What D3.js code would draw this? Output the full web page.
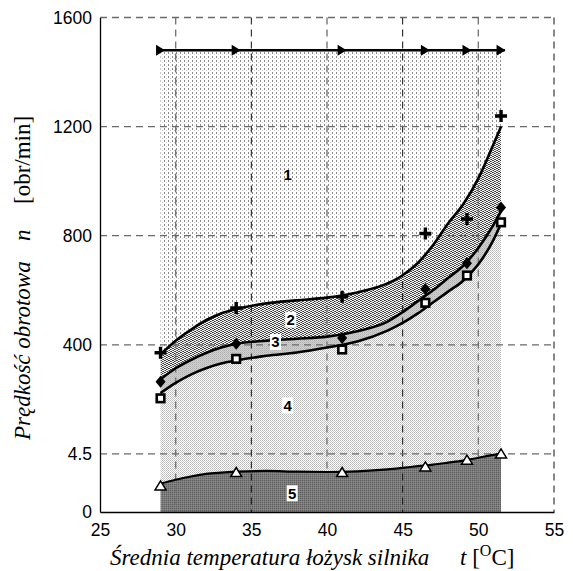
<!DOCTYPE html>
<html>
<head>
<meta charset="utf-8">
<script src="https://cdn.jsdelivr.net/npm/d3@7"></script>
<style>
  html, body { margin: 0; padding: 0; background: #fff; }
  svg { display: block; }
  .tick text { font-family: "Liberation Sans", Arial, sans-serif; font-size: 17.5px; fill: #000; }
</style>
</head>
<body>
<svg id="chart" width="573" height="571"></svg>
<script>
// Measurement points (temperature, °C)
const tempPoints = [29, 34, 41, 46.5, 49.25, 51.5];
const seriesPlus = [371, 535, 576, 808, 861, 1239];
const seriesDiamond = [266, 404, 425, 605, 699, 903];
const seriesSquare = [206, 349, 383, 554, 654, 849];
const seriesTriangle = [2.02, 3.06, 3.06, 3.49, 4.01, 4.53];
const arrowLevel = 1480;

// Fitted boundary curves, sampled along temperature
const curveTemps = [29, 30, 31, 32, 33, 34, 36, 38, 40, 42, 44, 45, 46, 47, 48, 49, 50, 51, 51.5];
const curveUpper = [365, 415, 455, 490, 515, 531, 552, 563, 573, 592, 625, 655, 700, 765, 845, 915, 1010, 1135, 1200];
const curveMiddle = [275, 315, 345, 370, 390, 404, 415, 422, 430, 450, 485, 520, 560, 600, 645, 690, 755, 840, 890];
const curveLower = [225, 262, 292, 315, 332, 343, 360, 372, 390, 412, 452, 480, 515, 555, 595, 635, 695, 785, 845];
const curveBase = [2.2, 2.5, 2.75, 2.95, 3.05, 3.12, 3.18, 3.12, 3.1, 3.15, 3.3, 3.42, 3.55, 3.67, 3.82, 3.98, 4.2, 4.42, 4.55];

// Axis ticks
const xTicks = [25, 30, 35, 40, 45, 50, 55];
const yTicks = [0, 4.5, 400, 800, 1200, 1600];
const zoneLabels = ["1", "2", "3", "4", "5"];
const zoneLabelTemps = [37.4, 37.6, 36.6, 37.4, 37.7];
const zoneLabelValues = [1025, 492, 410, 180, 1.45];

const svg = d3.select("#chart");
const x = d3.scaleLinear().domain([25, 55]).range([100, 554]);
const step = 109.1;
const y = d3.scaleLinear()
  .domain(yTicks)
  .range([512, 17.5 + 4 * step, 17.5 + 3 * step, 17.5 + 2 * step, 17.5 + step, 17.5]);

// Fill textures
const defs = svg.append("defs");
function pattern(id, w, h, bg, pixels) {
  const p = defs.append("pattern").attr("id", id)
    .attr("patternUnits", "userSpaceOnUse").attr("width", w).attr("height", h);
  p.append("rect").attr("width", w).attr("height", h).attr("fill", bg);
  pixels.forEach(([px, py, c, pw, ph]) => p.append("rect")
    .attr("x", px).attr("y", py).attr("width", pw || 1).attr("height", ph || 1)
    .attr("fill", c).attr("shape-rendering", "crispEdges"));
}
pattern("pZone1", 4, 4, "#fff", [[0, 0, "#8a8a8a", 1, 2], [2, 2, "#d0d0d0"]]);
pattern("pZone2", 4, 4, "#f4f4f4", [
  [0, 0, "#333"], [1, 0, "#555"],
  [2, 1, "#333"], [3, 1, "#777"],
  [1, 2, "#444"], [0, 2, "#888"],
  [3, 3, "#333"], [2, 3, "#666"]
]);
pattern("pZone3", 2, 2, "#d0d0d0", [[0, 0, "#b0b0b0"], [1, 1, "#c0c0c0"]]);
pattern("pZone4", 2, 2, "#fff", [[0, 0, "#b8b8b8"], [1, 1, "#c8c8c8"]]);
pattern("pZone5", 2, 2, "#7a7a7a", [[0, 0, "#5e5e5e"], [1, 1, "#8c8c8c"]]);

const idx = d3.range(curveTemps.length);
const cx = i => x(curveTemps[i]);
function band(topFn, botFn) {
  return d3.area().x(cx).y0(botFn).y1(topFn).curve(d3.curveMonotoneX)(idx);
}
const g = svg.append("g");
g.append("path").attr("d", band(() => y(arrowLevel), i => y(curveUpper[i]))).attr("fill", "url(#pZone1)");
g.append("path").attr("d", band(i => y(curveUpper[i]), i => y(curveMiddle[i]))).attr("fill", "url(#pZone2)");
g.append("path").attr("d", band(i => y(curveMiddle[i]), i => y(curveLower[i]))).attr("fill", "url(#pZone3)");
g.append("path").attr("d", band(i => y(curveLower[i]), i => y(curveBase[i]))).attr("fill", "url(#pZone4)");
g.append("path").attr("d", band(i => y(curveBase[i]), () => y(0))).attr("fill", "url(#pZone5)");

// Dashed grid
const grid = svg.append("g").attr("fill", "none");
xTicks.slice(1).forEach(t => {
  const dark = (t === 35 || t === 45 || t === 55);
  grid.append("line").attr("x1", x(t)).attr("x2", x(t)).attr("y1", y(1600)).attr("y2", y(0))
    .attr("stroke", dark ? "#111" : "#777").attr("stroke-width", dark ? 1 : 1.4)
    .attr("stroke-dasharray", "7,5");
});
yTicks.slice(1).forEach(t => {
  grid.append("line").attr("x1", x(25)).attr("x2", x(55)).attr("y1", y(t)).attr("y2", y(t))
    .attr("stroke", "#6a6a6a").attr("stroke-width", 1.3).attr("stroke-dasharray", "7,5");
});

// Boundary curves
const line = vals => d3.line().x(cx).y(i => y(vals[i])).curve(d3.curveMonotoneX)(idx);
[curveUpper, curveMiddle, curveLower].forEach(v =>
  svg.append("path").attr("d", line(v)).attr("fill", "none").attr("stroke", "#000").attr("stroke-width", 2.6));
svg.append("path").attr("d", line(curveBase)).attr("fill", "none").attr("stroke", "#000").attr("stroke-width", 2.2);

// Arrow line at constant level
svg.append("line").attr("x1", x(tempPoints[0]) - 4).attr("x2", x(tempPoints[tempPoints.length - 1]) + 4)
  .attr("y1", y(arrowLevel)).attr("y2", y(arrowLevel)).attr("stroke", "#000").attr("stroke-width", 2.6);
svg.append("g").selectAll("path").data(tempPoints).join("path")
  .attr("transform", d => `translate(${x(d)},${y(arrowLevel)})`)
  .attr("d", "M-4.5,-5.5L4.5,0L-4.5,5.5Z").attr("fill", "#000");

// Markers
const pts = (vals) => tempPoints.map((t, i) => [x(t), y(vals[i])]);
svg.append("g").selectAll("path").data(pts(seriesPlus)).join("path")
  .attr("transform", d => `translate(${d[0]},${d[1]})`)
  .attr("d", "M-6,0H6M0,-6V6").attr("stroke", "#000").attr("stroke-width", 3.4);
svg.append("g").selectAll("path").data(pts(seriesDiamond)).join("path")
  .attr("transform", d => `translate(${d[0]},${d[1]})`)
  .attr("d", "M0,-6L5,0L0,6L-5,0Z").attr("fill", "#000");
svg.append("g").selectAll("rect").data(pts(seriesSquare)).join("rect")
  .attr("x", d => d[0] - 3.8).attr("y", d => d[1] - 3.8).attr("width", 7.6).attr("height", 7.6)
  .attr("fill", "#fff").attr("stroke", "#000").attr("stroke-width", 2.6);
svg.append("g").selectAll("path").data(pts(seriesTriangle)).join("path")
  .attr("transform", d => `translate(${d[0]},${d[1]})`)
  .attr("d", "M0,-5L5.5,4L-5.5,4Z").attr("fill", "#fff").attr("stroke", "#000").attr("stroke-width", 1.5);

// Zone numbers
const lab = svg.append("g");
zoneLabels.forEach((s, i) => {
  const lx = x(zoneLabelTemps[i]), ly = y(zoneLabelValues[i]);
  if (i > 0) lab.append("rect").attr("x", lx - 5.5).attr("y", ly - 8).attr("width", 11).attr("height", 16).attr("fill", "#fff");
  lab.append("text").attr("x", lx).attr("y", ly).attr("dy", "0.36em").attr("text-anchor", "middle")
    .attr("font-family", "Liberation Sans, Arial, sans-serif").attr("font-weight", "bold").attr("font-size", 15)
    .text(s);
});

// Axes
svg.append("g").attr("transform", `translate(0,${y(0)})`)
  .call(d3.axisBottom(x).tickValues(xTicks).tickSize(0).tickPadding(12).tickFormat(d3.format("d")))
  .call(a => a.select(".domain").attr("stroke", "#000").attr("stroke-width", 1.3));
svg.append("g").attr("transform", `translate(${x(25)},0)`)
  .call(d3.axisLeft(y).tickValues(yTicks).tickSize(0).tickPadding(8).tickFormat(d => String(d)))
  .call(a => a.select(".domain").attr("stroke", "#000").attr("stroke-width", 1.3));

// Axis titles
const serif = "Liberation Serif, Times New Roman, serif";
const xt = svg.append("text").attr("y", 565).attr("font-family", serif).attr("font-size", 23);
xt.append("tspan").attr("x", 110).attr("font-style", "italic").text("Średnia temperatura łożysk silnika");
xt.append("tspan").attr("x", 460).attr("font-style", "italic").text("t");
xt.append("tspan").text(" [");
xt.append("tspan").attr("font-size", 16).attr("dy", -9).text("O");
xt.append("tspan").attr("dy", 9).text("C]");

const yt = svg.append("text").attr("transform", "translate(30,440) rotate(-90)")
  .attr("font-family", serif).attr("font-size", 23);
yt.append("tspan").attr("x", 0).attr("font-style", "italic").text("Prędkość obrotowa");
yt.append("tspan").attr("x", 199).attr("font-style", "italic").text("n");
yt.append("tspan").attr("x", 236).text("[obr/min]");
</script>
</body>
</html>
